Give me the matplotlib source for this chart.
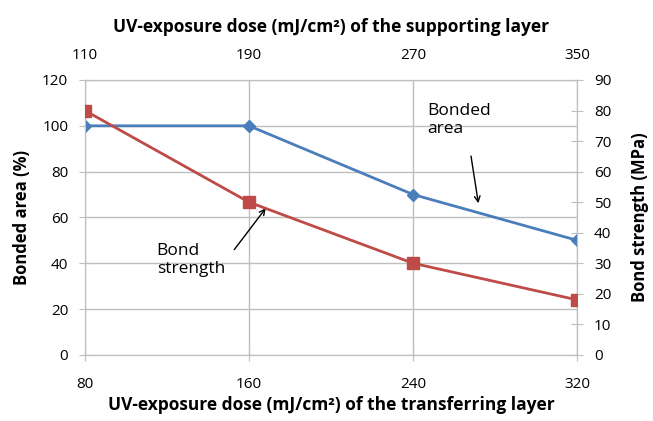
import matplotlib.pyplot as plt

plt.rcParams['font.family'] = ['Open Sans', 'DejaVu Sans']

# data
transfer_dose = [80, 160, 240, 320]
support_dose_ticks = [110, 190, 270, 350]
bonded_area = [100, 100, 70, 50]
bond_strength = [80, 50, 30, 18]

blue = '#4a7ebb'
red = '#be4b48'
grid_c = '#bfbfbf'

fig = plt.figure(figsize=(6.53, 4.21), dpi=100)
ax = fig.add_axes([0.130, 0.157, 0.754, 0.653])

ax.plot(transfer_dose, bonded_area, color=blue, linewidth=2, marker='D', markersize=6, zorder=3)
ax.set_xlim(80, 320)
ax.set_ylim(0, 120)
ax.set_xticks(transfer_dose)
ax.set_yticks(range(0, 121, 20))
ax.grid(True, color=grid_c, linewidth=1)
ax.set_axisbelow(True)
for s in ax.spines.values():
    s.set_color(grid_c)
ax.tick_params(axis='y', direction='inout', length=8, color=grid_c, labelsize=11, pad=8)
ax.tick_params(axis='x', direction='inout', length=8, color=grid_c, labelsize=11, pad=12)
ax.set_xlabel('UV-exposure dose (mJ/cm²) of the transferring layer', fontsize=12.5, fontweight='bold', labelpad=3)
ax.set_ylabel('Bonded area (%)', fontsize=12, fontweight='bold', labelpad=8)

ax2 = ax.twinx()
ax2.plot(transfer_dose, bond_strength, color=red, linewidth=2, marker='s', markersize=8, zorder=3)
ax2.set_ylim(0, 90)
ax2.set_yticks(range(0, 91, 10))
for s in ax2.spines.values():
    s.set_color(grid_c)
ax2.tick_params(direction='inout', length=8, color=grid_c, labelsize=11, pad=8)
ax2.set_ylabel('Bond strength (MPa)', fontsize=12, fontweight='bold', labelpad=14)

ax3 = ax.twiny()
ax3.set_xlim(110, 350)
ax3.set_xticks(support_dose_ticks)
ax3.tick_params(length=0, labelsize=11, pad=12)
for s in ax3.spines.values():
    s.set_visible(False)
ax3.set_xlabel('UV-exposure dose (mJ/cm²) of the supporting layer', fontsize=12.5, fontweight='bold', labelpad=12)

# annotations
ax.text(247, 110, 'Bonded\narea', fontsize=12.5, va='top', ha='left', linespacing=1.2)
ax.annotate('', xy=(272, 65), xytext=(268, 88),
            arrowprops=dict(arrowstyle='->', color='black', linewidth=1))
ax.text(115, 49, 'Bond\nstrength', fontsize=12.5, va='top', ha='left', linespacing=1.2)
ax.annotate('', xy=(169, 65), xytext=(152, 45),
            arrowprops=dict(arrowstyle='->', color='black', linewidth=1))

plt.savefig('out.png', dpi=100)
